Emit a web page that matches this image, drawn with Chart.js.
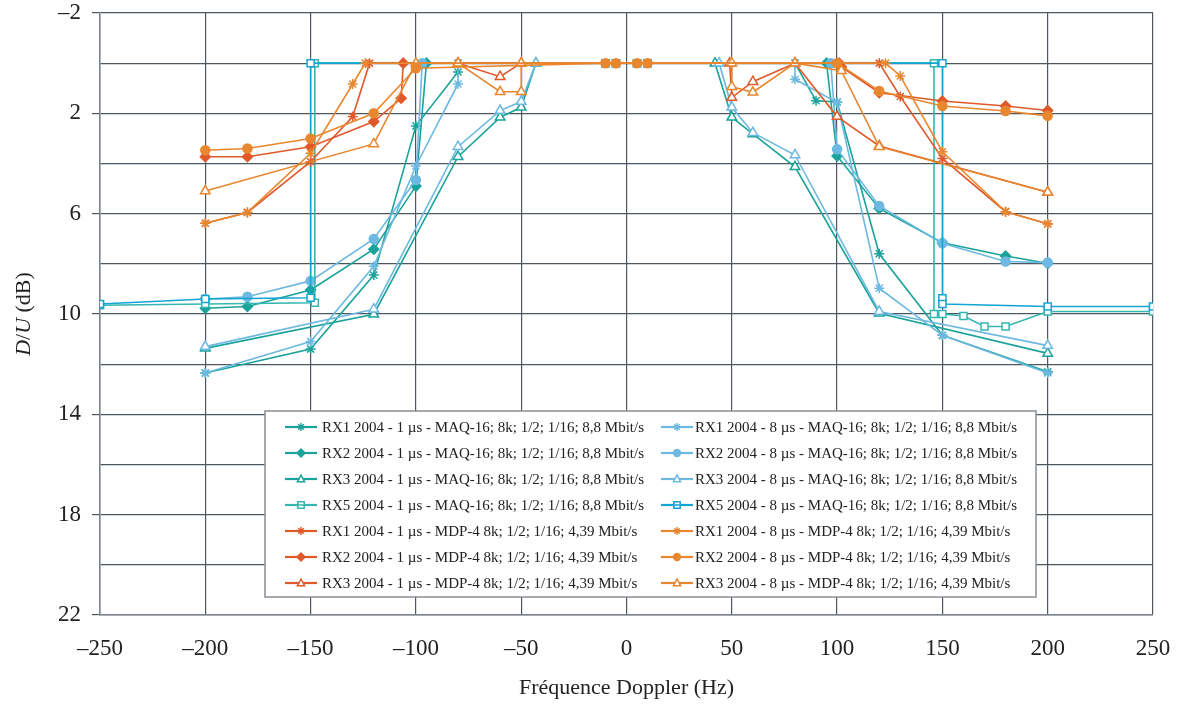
<!DOCTYPE html>
<html>
<head>
<meta charset="utf-8">
<script src="https://cdn.jsdelivr.net/npm/chart.js@4/dist/chart.umd.min.js"></script>
<style>
  html, body { margin: 0; padding: 0; background: #ffffff; }
  #wrap { width: 1180px; height: 707px; }
</style>
</head>
<body>
<div id="wrap"><canvas id="c" width="1180" height="707"></canvas></div>
<script>
// ---------- axis tick values ----------
const xTicks = [-250, -200, -150, -100, -50, 0, 50, 100, 150, 200, 250];
const yLabelTicks = [-2, 2, 6, 10, 14, 18, 22];

// ---------- data (Doppler frequency Hz, D/U dB) ----------
// 1 µs - MAQ-16
const rx1_1_maq_f  = [-200, -150, -120, -100, -80, -80, 80, 90, 100, 120, 150, 200];
const rx1_1_maq_du = [12.35, 11.4, 8.45, 2.5, 0.35, 0, 0, 1.5, 1.55, 7.6, 10.85, 12.3];
const rx2_1_maq_f  = [-200, -180, -150, -120, -100, -95, 95, 100, 120, 150, 180, 200];
const rx2_1_maq_du = [9.77, 9.7, 9.04, 7.42, 4.9, 0, 0, 3.7, 5.79, 7.16, 7.69, 7.98];
const rx3_1_maq_f  = [-200, -120, -80, -60, -50, -43, 42, 50, 60, 80, 120, 200];
const rx3_1_maq_du = [11.37, 10.01, 3.73, 2.16, 1.76, 0, 0, 2.16, 2.82, 4.13, 9.97, 11.57];
const rx5_1_maq_f  = [-250, -200, -148, -148, -10, -5, 5, 10, 146, 146, 150, 160, 170, 180, 200, 250];
const rx5_1_maq_du = [9.65, 9.6, 9.55, 0, 0, 0, 0, 0, 0, 10.0, 10.0, 10.08, 10.5, 10.5, 9.9, 9.9];
// 8 µs - MAQ-16
const rx1_8_maq_f  = [-200, -150, -120, -100, -80, -80, 80, 80, 100, 120, 150, 200];
const rx1_8_maq_du = [12.35, 11.1, 8.1, 4.1, 0.83, 0, 0, 0.64, 1.57, 8.97, 10.85, 12.35];
const rx2_8_maq_f  = [-200, -180, -150, -120, -100, -97, 97, 100, 120, 150, 180, 200];
const rx2_8_maq_du = [9.4, 9.31, 8.68, 7.01, 4.66, 0, 0, 3.43, 5.69, 7.18, 7.91, 7.95];
const rx3_8_maq_f  = [-200, -120, -80, -60, -50, -43, 44, 50, 60, 80, 120, 200];
const rx3_8_maq_du = [11.3, 9.81, 3.33, 1.89, 1.53, 0, 0, 1.76, 2.77, 3.66, 9.9, 11.26];
const rx5_8_maq_f  = [-250, -200, -150, -150, -10, -5, 5, 10, 150, 150, 150, 200, 250];
const rx5_8_maq_du = [9.6, 9.4, 9.35, 0, 0, 0, 0, 0, 0, 9.37, 9.6, 9.7, 9.7];
// 1 µs - MDP-4
const rx1_1_mdp_f  = [-200, -180, -150, -130, -122, 120, 130, 150, 180, 200];
const rx1_1_mdp_du = [6.38, 5.95, 3.93, 2.13, 0, 0, 1.33, 3.8, 5.92, 6.4];
const rx2_1_mdp_f  = [-200, -180, -150, -120, -107, -106, 101, 102, 120, 150, 180, 200];
const rx2_1_mdp_du = [3.73, 3.73, 3.33, 2.33, 1.4, 0, 0, 0.15, 1.18, 1.51, 1.71, 1.89];
const rx3_1_mdp_f  = [-80, -60, -50, 49, 50, 60, 80, 100, 120, 200];
const rx3_1_mdp_du = [0, 0.54, 0, 0, 1.37, 0.74, 0, 2.13, 3.3, 5.15];
// 8 µs - MDP-4
const rx1_8_mdp_f  = [-200, -180, -150, -130, -124, 123, 130, 150, 180, 200];
const rx1_8_mdp_du = [6.38, 5.95, 3.59, 0.83, 0, 0, 0.51, 3.53, 5.92, 6.41];
const rx2_8_mdp_f  = [-200, -180, -150, -120, -100, -10, -5, 5, 10, 100, 120, 150, 180, 200];
const rx2_8_mdp_du = [3.47, 3.4, 3.0, 2.0, 0.2, 0, 0, 0, 0, 0, 1.11, 1.71, 1.91, 2.1];
const rx3_8_mdp_f  = [-200, -120, -100, -80, -60, -50, -50, 50, 50, 60, 80, 102, 120, 200];
const rx3_8_mdp_du = [5.1, 3.22, 0, 0, 1.14, 1.14, 0, 0, 0.94, 1.16, 0, 0.3, 3.33, 5.15];

// ---------- labels ----------
const labels1 = [
  'RX1 2004 - 1 µs - MAQ-16; 8k; 1/2; 1/16; 8,8 Mbit/s',
  'RX2 2004 - 1 µs - MAQ-16; 8k; 1/2; 1/16; 8,8 Mbit/s',
  'RX3 2004 - 1 µs - MAQ-16; 8k; 1/2; 1/16; 8,8 Mbit/s',
  'RX5 2004 - 1 µs - MAQ-16; 8k; 1/2; 1/16; 8,8 Mbit/s',
  'RX1 2004 - 1 µs - MDP-4 8k; 1/2; 1/16; 4,39 Mbit/s',
  'RX2 2004 - 1 µs - MDP-4 8k; 1/2; 1/16; 4,39 Mbit/s',
  'RX3 2004 - 1 µs - MDP-4 8k; 1/2; 1/16; 4,39 Mbit/s'
];
const labels8 = [
  'RX1 2004 - 8 µs - MAQ-16; 8k; 1/2; 1/16; 8,8 Mbit/s',
  'RX2 2004 - 8 µs - MAQ-16; 8k; 1/2; 1/16; 8,8 Mbit/s',
  'RX3 2004 - 8 µs - MAQ-16; 8k; 1/2; 1/16; 8,8 Mbit/s',
  'RX5 2004 - 8 µs - MAQ-16; 8k; 1/2; 1/16; 8,8 Mbit/s',
  'RX1 2004 - 8 µs - MDP-4 8k; 1/2; 1/16; 4,39 Mbit/s',
  'RX2 2004 - 8 µs - MDP-4 8k; 1/2; 1/16; 4,39 Mbit/s',
  'RX3 2004 - 8 µs - MDP-4 8k; 1/2; 1/16; 4,39 Mbit/s'
];
const xTitle = 'Fréquence Doppler (Hz)';

// ---------- styles ----------
const TEAL = '#1aa39b', TEAL5 = '#35b6b1', LBLUE = '#6db9e1', CYAN = '#12a5d3', RED = '#e0592a', ORANGE = '#e9872f';
const SERIF = '"Liberation Serif", "Times New Roman", serif';

const leftCol = [
  {f: rx1_1_maq_f, du: rx1_1_maq_du, color: TEAL,  shape: 'star',    order: 5},
  {f: rx2_1_maq_f, du: rx2_1_maq_du, color: TEAL,  shape: 'rectRot', order: 5},
  {f: rx3_1_maq_f, du: rx3_1_maq_du, color: TEAL,  shape: 'triangle',order: 5},
  {f: rx5_1_maq_f, du: rx5_1_maq_du, color: TEAL5, shape: 'rect',    order: 3},
  {f: rx1_1_mdp_f, du: rx1_1_mdp_du, color: RED,   shape: 'star',    order: 1},
  {f: rx2_1_mdp_f, du: rx2_1_mdp_du, color: RED,   shape: 'rectRot', order: 1},
  {f: rx3_1_mdp_f, du: rx3_1_mdp_du, color: RED,   shape: 'triangle',order: 1}
];
const rightCol = [
  {f: rx1_8_maq_f, du: rx1_8_maq_du, color: LBLUE, shape: 'star',    order: 4},
  {f: rx2_8_maq_f, du: rx2_8_maq_du, color: LBLUE, shape: 'circle',  order: 4},
  {f: rx3_8_maq_f, du: rx3_8_maq_du, color: LBLUE, shape: 'triangle',order: 4},
  {f: rx5_8_maq_f, du: rx5_8_maq_du, color: CYAN,  shape: 'rect',    order: 2},
  {f: rx1_8_mdp_f, du: rx1_8_mdp_du, color: ORANGE,shape: 'star',    order: 0},
  {f: rx2_8_mdp_f, du: rx2_8_mdp_du, color: ORANGE,shape: 'circle',  order: 0},
  {f: rx3_8_mdp_f, du: rx3_8_mdp_du, color: ORANGE,shape: 'triangle',order: 0}
];

function hollow(shape) { return shape === 'triangle' || shape === 'rect'; }
function radiusFor(shape) {
  if (shape === 'star') return 5;
  if (shape === 'rect') return 5;
  if (shape === 'triangle') return 5.5;
  if (shape === 'circle') return 4.5;
  return 5;
}
function makeDataset(s, label) {
  return {
    label: label,
    data: s.f.map((x, i) => ({x: x, y: s.du[i]})),
    showLine: true,
    borderColor: s.color,
    backgroundColor: s.color,
    borderWidth: 1.6,
    pointStyle: s.shape,
    pointRadius: radiusFor(s.shape),
    pointBorderColor: s.color,
    pointBackgroundColor: hollow(s.shape) ? '#ffffff' : s.color,
    pointBorderWidth: 1.5,
    tension: 0,
    order: s.order
  };
}
const datasets = [];
leftCol.forEach((s, i) => datasets.push(makeDataset(s, labels1[i])));
rightCol.forEach((s, i) => datasets.push(makeDataset(s, labels8[i])));

function fmt(v) { return v < 0 ? '\u2013' + Math.abs(v) : String(v); }

// ---------- custom marker for legend ----------
function drawMarker(ctx, shape, color, x, y, r) {
  ctx.save();
  ctx.strokeStyle = color; ctx.fillStyle = color; ctx.lineWidth = 1.5;
  ctx.beginPath();
  if (shape === 'star') {
    for (let k = 0; k < 4; k++) {
      const a = k * Math.PI / 4;
      ctx.moveTo(x - Math.cos(a) * r, y - Math.sin(a) * r);
      ctx.lineTo(x + Math.cos(a) * r, y + Math.sin(a) * r);
    }
    ctx.stroke();
  } else if (shape === 'rectRot') {
    ctx.moveTo(x, y - r); ctx.lineTo(x + r, y); ctx.lineTo(x, y + r); ctx.lineTo(x - r, y); ctx.closePath();
    ctx.fill(); ctx.stroke();
  } else if (shape === 'circle') {
    ctx.arc(x, y, r * 0.85, 0, Math.PI * 2); ctx.fill(); ctx.stroke();
  } else if (shape === 'triangle') {
    ctx.moveTo(x, y - r); ctx.lineTo(x + r * 0.9, y + r * 0.7); ctx.lineTo(x - r * 0.9, y + r * 0.7); ctx.closePath();
    ctx.fillStyle = '#fff'; ctx.fill(); ctx.stroke();
  } else if (shape === 'rect') {
    ctx.rect(x - r * 0.8, y - r * 0.8, r * 1.6, r * 1.6);
    ctx.fillStyle = '#fff'; ctx.fill(); ctx.stroke();
    ctx.beginPath(); ctx.moveTo(x - r * 0.8, y); ctx.lineTo(x + r * 0.8, y); ctx.stroke();
  }
  ctx.restore();
}

const decorPlugin = {
  id: 'decor',
  afterDraw(chart) {
    const ctx = chart.ctx;
    const ca = chart.chartArea;
    // ---- legend box ----
    const bx = 265, by = 411, bw = 771, bh = 186;
    ctx.save();
    ctx.fillStyle = '#ffffff';
    ctx.fillRect(bx, by, bw, bh);
    ctx.strokeStyle = '#8a8e93'; ctx.lineWidth = 1.5;
    ctx.strokeRect(bx, by, bw, bh);
    ctx.font = '15px ' + SERIF;
    ctx.fillStyle = '#222';
    ctx.textBaseline = 'middle';
    ctx.textAlign = 'left';
    const cols = [
      {items: leftCol, labels: labels1, l0: 285, l1: 317, tx: 322},
      {items: rightCol, labels: labels8, l0: 661, l1: 693, tx: 695}
    ];
    cols.forEach(col => {
      col.items.forEach((s, i) => {
        const y = 427 + i * 26;
        ctx.strokeStyle = s.color; ctx.lineWidth = 2.2;
        ctx.beginPath(); ctx.moveTo(col.l0, y); ctx.lineTo(col.l1, y); ctx.stroke();
        drawMarker(ctx, s.shape, s.color, (col.l0 + col.l1) / 2, y, 4);
        ctx.fillStyle = '#222';
        ctx.fillText(col.labels[i], col.tx, y + 1);
      });
    });
    // ---- x title ----
    ctx.font = '22px ' + SERIF;
    ctx.textAlign = 'center';
    ctx.textBaseline = 'middle';
    ctx.fillStyle = '#222';
    ctx.fillText(xTitle, (ca.left + ca.right) / 2, 688);
    // ---- y title (rotated, italic D and U) ----
    ctx.translate(24, (ca.top + ca.bottom) / 2);
    ctx.rotate(-Math.PI / 2);
    const parts = [
      {t: 'D', f: 'italic 22px ' + SERIF},
      {t: '/', f: '22px ' + SERIF},
      {t: 'U', f: 'italic 22px ' + SERIF},
      {t: ' (dB)', f: '22px ' + SERIF}
    ];
    let total = 0;
    parts.forEach(p => { ctx.font = p.f; p.w = ctx.measureText(p.t).width; total += p.w; });
    let px = -total / 2;
    ctx.textAlign = 'left';
    parts.forEach(p => { ctx.font = p.f; ctx.fillText(p.t, px, 0); px += p.w; });
    ctx.restore();
  }
};

new Chart(document.getElementById('c'), {
  type: 'scatter',
  data: { datasets: datasets },
  options: {
    responsive: false,
    animation: false,
    layout: { padding: { left: 0, right: 27, top: 13, bottom: 0 } },
    plugins: { legend: { display: false }, tooltip: { enabled: false } },
    elements: { line: { tension: 0 } },
    scales: {
      x: {
        type: 'linear', min: xTicks[0], max: xTicks[xTicks.length - 1],
        afterBuildTicks: (s) => { s.ticks = xTicks.map(v => ({value: v})); },
        ticks: { font: { family: SERIF, size: 23, lineHeight: 1 }, color: '#222', padding: 22, maxRotation: 0, callback: (v) => fmt(v) },
        grid: { color: '#4e575f', lineWidth: 1.2, drawTicks: false },
        border: { color: '#7d8389', width: 1.5 },
        afterFit: (s) => { s.height = 92; s.paddingLeft = 0; s.paddingRight = 0; }
      },
      y: {
        type: 'linear', reverse: true, min: -2, max: 22,
        ticks: {
          stepSize: 2,
          font: { family: SERIF, size: 23, lineHeight: 1 }, color: '#222', padding: 11,
          callback: (v) => (yLabelTicks.includes(v) ? fmt(v) : '')
        },
        grid: {
          color: '#4e575f', lineWidth: 1.2, tickLength: 8,
          tickColor: (c) => (c.tick && yLabelTicks.includes(c.tick.value) ? '#4e575f' : 'rgba(0,0,0,0)')
        },
        border: { color: '#7d8389', width: 1.5 },
        afterFit: (s) => { s.width = 100; s.paddingTop = 0; s.paddingBottom = 0; }
      }
    }
  },
  plugins: [decorPlugin]
});
</script>
</body>
</html>
